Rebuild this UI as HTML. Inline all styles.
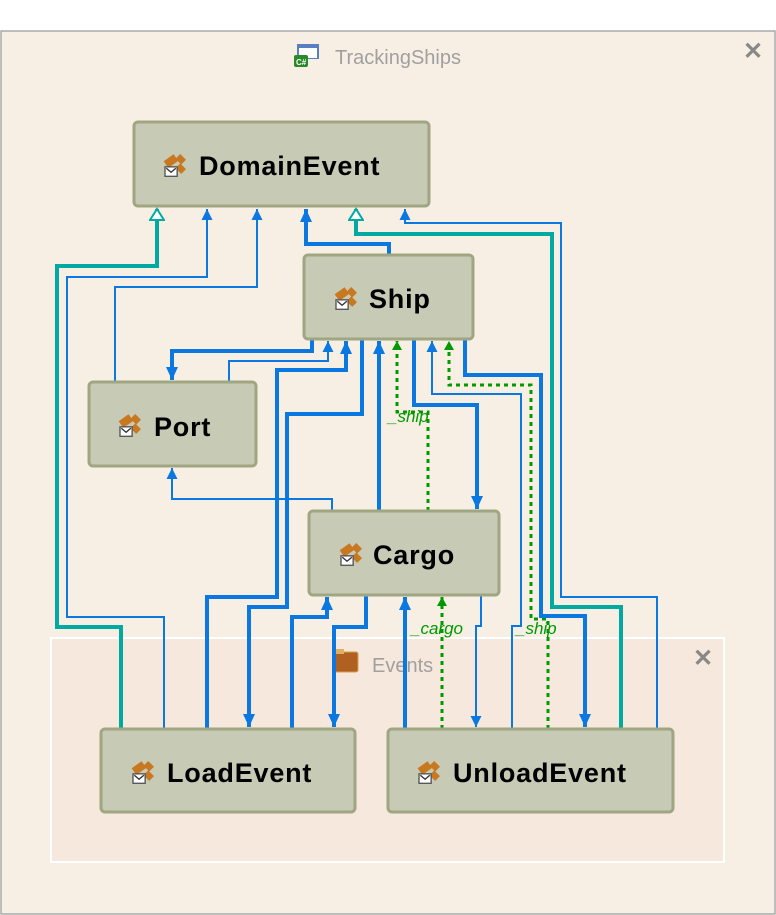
<!DOCTYPE html>
<html><head><meta charset="utf-8"><style>
html,body{margin:0;padding:0;background:#fff;}
svg{display:block;font-family:"Liberation Sans",sans-serif;}
.n{fill:#c7cab4;stroke:#a0a682;stroke-width:3;}
.t{font-weight:bold;font-size:27px;letter-spacing:0.8px;fill:#000;}
.b{fill:none;stroke:#0a78e0;stroke-width:4;}
.bt{fill:none;stroke:#0a78e0;stroke-width:2;}
.tl{fill:none;stroke:#00aaa0;stroke-width:4;}
.g{fill:none;stroke:#009900;stroke-width:3;stroke-dasharray:4,4;}
.lb{font-style:italic;font-size:17px;fill:#009900;}
</style></head><body>
<svg width="776" height="915" viewBox="0 0 776 915">
<defs>
<marker id="a" markerUnits="userSpaceOnUse" markerWidth="14" markerHeight="12" refX="13" refY="6" orient="auto"><path d="M0,0 L13,6 L0,12z" fill="#0a78e0"/></marker>
<marker id="at" markerUnits="userSpaceOnUse" markerWidth="12" markerHeight="12" refX="11" refY="6" orient="auto"><path d="M0,0.5 L11,6 L0,11.5z" fill="#0a78e0"/></marker>
<marker id="ag" markerUnits="userSpaceOnUse" markerWidth="10" markerHeight="10" refX="9" refY="5" orient="auto"><path d="M0,0 L9,5 L0,10z" fill="#009900"/></marker>
<marker id="ah" markerUnits="userSpaceOnUse" markerWidth="14" markerHeight="16" refX="12" refY="8" orient="auto"><path d="M1,1 L12,8 L1,15z" fill="#fff" stroke="#00aaa0" stroke-width="2"/></marker>
<g id="ic0"><rect x="0" y="4" width="9" height="6" fill="#c87820" transform="rotate(-35 4 7)"/><rect x="9" y="3" width="6" height="5" fill="#c87820" transform="rotate(45 12 5)"/><rect x="9" y="10" width="6" height="5" fill="#c87820" transform="rotate(45 12 12)"/><rect x="0" y="11" width="9" height="7" fill="#fff" stroke="#555" stroke-width="1"/><path d="M1,12 L4.5,15 L8,12" fill="none" stroke="#333"/></g>
<g id="ic" transform="scale(1.35)"><use href="#ic0"/></g>
</defs>
<rect x="0" y="0" width="776" height="915" fill="#fff"/>
<rect x="1" y="31" width="774" height="883" fill="#f7efe4" stroke="#aaa" stroke-width="1.5"/>
<rect x="297" y="44" width="22" height="15" fill="#5a7fc0"/><rect x="299" y="48" width="18" height="10" fill="#fff"/><rect x="294" y="55" width="14" height="12" rx="2" fill="#2a8a2a"/><text x="296" y="65" font-size="8" fill="#fff" font-weight="bold">C#</text>
<text x="335" y="64" font-size="20" fill="#a0a0a0">TrackingShips</text>
<text x="743" y="59" font-size="24" fill="#888" font-weight="bold">✕</text>
<rect x="51" y="638" width="673" height="224" fill="#f6e8dc" stroke="#fff" stroke-width="2"/>
<rect x="334" y="652" width="24" height="20" rx="2" fill="#b06020" stroke="#d8a050"/><rect x="334" y="649" width="10" height="5" fill="#e0b060"/>
<text x="372" y="672" font-size="20" fill="#a0a0a0">Events</text>
<text x="693" y="666" font-size="24" fill="#888" font-weight="bold">✕</text>

<polyline class="tl" points="121,729 121,627 57,627 57,266 157,266 157,209" marker-end="url(#ah)"/>
<polyline class="bt" points="164,729 164,617 67,617 67,277 207,277 207,209" marker-end="url(#at)"/>
<polyline class="bt" points="115,382 115,287 257,287 257,209" marker-end="url(#at)"/>
<polyline class="b" points="389,255 389,244 306,244 306,209" marker-end="url(#a)"/>
<polyline class="tl" points="621,729 621,607 552,607 552,234 356,234 356,209" marker-end="url(#ah)"/>
<polyline class="bt" points="657,729 657,597 561,597 561,223 405,223 405,209" marker-end="url(#at)"/>

<polyline class="b" points="312,339 312,351 172,351 172,380" marker-end="url(#a)"/>
<polyline class="bt" points="229,382 229,361 328,361 328,341" marker-end="url(#at)"/>
<polyline class="b" points="207,729 207,597 277,597 277,370 346,370 346,341" marker-end="url(#a)"/>
<polyline class="b" points="362,339 362,414 287,414 287,607 249,607 249,727" marker-end="url(#a)"/>
<polyline class="b" points="379,511 379,341" marker-end="url(#a)"/>
<polyline class="g" points="428,511 428,412 397,412 397,341" marker-end="url(#ag)"/>
<polyline class="b" points="414,339 414,405 477,405 477,509" marker-end="url(#a)"/>
<polyline class="bt" points="512,729 512,626 521,626 521,394 432,394 432,341" marker-end="url(#at)"/>
<polyline class="g" points="548,729 548,619 531,619 531,385 449,385 449,341" marker-end="url(#ag)"/>
<polyline class="b" points="465,339 465,375 541,375 541,616 585,616 585,727" marker-end="url(#a)"/>

<polyline class="bt" points="332,511 332,499 172,499 172,468" marker-end="url(#at)"/>
<polyline class="b" points="292,729 292,617 327,617 327,597" marker-end="url(#a)"/>
<polyline class="b" points="366,595 366,627 334,627 334,727" marker-end="url(#a)"/>
<polyline class="b" points="405,729 405,597" marker-end="url(#a)"/>
<polyline class="g" points="442,729 442,597" marker-end="url(#ag)"/>
<polyline class="bt" points="481,595 481,626 476,626 476,727" marker-end="url(#at)"/>

<text class="lb" x="388" y="422">_ship</text>
<text class="lb" x="411" y="634">_cargo</text>
<text class="lb" x="516" y="634">_ship</text>

<rect class="n" x="134" y="122" width="295" height="84" rx="4"/>
<use href="#ic" x="165" y="152"/><text class="t" x="199" y="175">DomainEvent</text>
<rect class="n" x="304" y="255" width="169" height="84" rx="4"/>
<use href="#ic" x="336" y="285"/><text class="t" x="369" y="308">Ship</text>
<rect class="n" x="89" y="382" width="167" height="84" rx="4"/>
<use href="#ic" x="120" y="412"/><text class="t" x="154" y="436">Port</text>
<rect class="n" x="309" y="511" width="190" height="84" rx="4"/>
<use href="#ic" x="341" y="541"/><text class="t" x="373" y="564">Cargo</text>
<rect class="n" x="101" y="729" width="254" height="83" rx="4"/>
<use href="#ic" x="133" y="759"/><text class="t" x="167" y="782">LoadEvent</text>
<rect class="n" x="388" y="729" width="285" height="83" rx="4"/>
<use href="#ic" x="419" y="759"/><text class="t" x="453" y="782">UnloadEvent</text>
</svg>
</body></html>
